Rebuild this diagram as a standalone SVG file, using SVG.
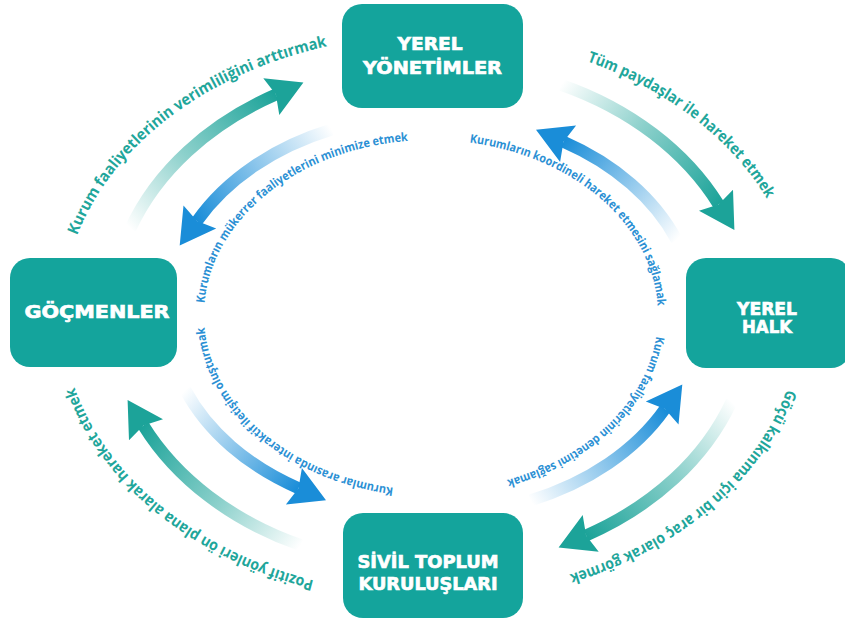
<svg xmlns="http://www.w3.org/2000/svg" width="845" height="623" viewBox="0 0 845 623">
<style>
.node rect{fill:#14a49c}
.node text{fill:#ffffff;stroke:#ffffff;stroke-width:0.7px;font-family:"DejaVu Sans","Liberation Sans",sans-serif;font-weight:bold;font-size:18px;text-anchor:middle}
.ot{fill:#1fa69b;font-family:"Open Sans","Liberation Sans",sans-serif;font-weight:bold;font-size:15.5px}
.it{fill:#2b90d4;font-family:"Open Sans","Liberation Sans",sans-serif;font-weight:bold;font-size:12px}
.ts{fill:none;stroke-width:12}
.th{fill:#1ca399}
.bh{fill:#1a8dd8}
</style>
<defs>
<linearGradient id="gT"><stop offset="0" stop-color="#1ca399" stop-opacity="0"/><stop offset="0.45" stop-color="#1ca399" stop-opacity="0.5"/><stop offset="1" stop-color="#1ca399" stop-opacity="1"/></linearGradient>
<linearGradient id="gB"><stop offset="0" stop-color="#1a8dd8" stop-opacity="0"/><stop offset="0.5" stop-color="#1a8dd8" stop-opacity="0.5"/><stop offset="1" stop-color="#1a8dd8" stop-opacity="1"/></linearGradient>
<linearGradient id="gT1" href="#gT" gradientUnits="userSpaceOnUse" x1="130.3" y1="228.8" x2="275.9" y2="94.6"/>
<linearGradient id="gT2" href="#gT" gradientUnits="userSpaceOnUse" x1="561.2" y1="84.8" x2="718.6" y2="204.5"/>
<linearGradient id="gT3" href="#gT" gradientUnits="userSpaceOnUse" x1="731.7" y1="401.2" x2="586.1" y2="535.4"/>
<linearGradient id="gT4" href="#gT" gradientUnits="userSpaceOnUse" x1="300.8" y1="545.2" x2="143.4" y2="425.5"/>
<linearGradient id="gB1" href="#gB" gradientUnits="userSpaceOnUse" x1="331.7" y1="129.6" x2="197.0" y2="221.1"/>
<linearGradient id="gB2" href="#gB" gradientUnits="userSpaceOnUse" x1="676.7" y1="240.1" x2="563.5" y2="141.8"/>
<linearGradient id="gB3" href="#gB" gradientUnits="userSpaceOnUse" x1="530.3" y1="500.4" x2="665.0" y2="408.9"/>
<linearGradient id="gB4" href="#gB" gradientUnits="userSpaceOnUse" x1="185.3" y1="389.9" x2="298.5" y2="488.2"/>
<path id="pOTL" d="M77.2 235.5 A369 280 0 0 1 403.3 35.8"/>
<path id="pOTR" d="M586.9 61.2 A369 280 0 0 1 791.3 254.4"/>
<path id="pOBR" d="M786.8 389.4 A369 280 0 0 1 495.1 590.7"/>
<path id="pOBL" d="M313.9 580.5 A369 280 0 0 1 62.5 329.6"/>
<path id="pITL" d="M204.5 303.1 A227 175 0 0 1 454.7 141.0"/>
<path id="pITR" d="M469.6 142.6 A227 175 0 0 1 655.2 342.4"/>
<path id="pIBR" d="M656.3 336.3 A227 175 0 0 1 460.2 488.5"/>
<path id="pIBL" d="M393.5 487.6 A227 175 0 0 1 206.2 290.6"/>
</defs>
<rect width="845" height="623" fill="#ffffff"/>
<g id="connectors">
<g id="arrow-gocmenler-yerel-yonetimler">
<path class="ts" stroke="url(#gT1)" d="M130.3 228.8 A320 252 0 0 1 275.9 94.6"/>
<polygon class="th" points="303.4,82.6 279.3,114.9 275.9,94.6 263.3,78.3"/>
</g>
<g id="arrow-yerel-yonetimler-yerel-halk">
<path class="ts" stroke="url(#gT2)" d="M561.2 84.8 A320 252 0 0 1 718.6 204.5"/>
<polygon class="th" points="734.4,230.0 699.0,210.8 718.6,204.5 733.0,189.7"/>
</g>
<g id="arrow-yerel-halk-stk">
<path class="ts" stroke="url(#gT3)" d="M731.7 401.2 A320 252 0 0 1 586.1 535.4"/>
<polygon class="th" points="558.6,547.4 582.7,515.1 586.1,535.4 598.7,551.7"/>
</g>
<g id="arrow-stk-gocmenler">
<path class="ts" stroke="url(#gT4)" d="M300.8 545.2 A320 252 0 0 1 143.4 425.5"/>
<polygon class="th" points="127.6,400.0 163.0,419.2 143.4,425.5 129.0,440.3"/>
</g>
<g id="arrow-yerel-yonetimler-gocmenler">
<path class="ts" stroke="url(#gB1)" d="M331.7 129.6 A265 200 0 0 0 197.0 221.1"/>
<polygon class="bh" points="179.7,245.6 183.5,205.5 197.0,221.1 216.2,228.5"/>
</g>
<g id="arrow-yerel-halk-yerel-yonetimler">
<path class="ts" stroke="url(#gB2)" d="M676.7 240.1 A265 200 0 0 0 563.5 141.8"/>
<polygon class="bh" points="536.0,129.8 576.1,125.5 563.5,141.8 560.1,162.1"/>
</g>
<g id="arrow-stk-yerel-halk">
<path class="ts" stroke="url(#gB3)" d="M530.3 500.4 A265 200 0 0 0 665.0 408.9"/>
<polygon class="bh" points="682.3,384.4 678.5,424.5 665.0,408.9 645.8,401.5"/>
</g>
<g id="arrow-gocmenler-stk">
<path class="ts" stroke="url(#gB4)" d="M185.3 389.9 A265 200 0 0 0 298.5 488.2"/>
<polygon class="bh" points="326.0,500.2 285.9,504.5 298.5,488.2 301.9,467.9"/>
</g>
</g>
<g id="labels">
<text class="ot"><textPath href="#pOTL" textLength="326" lengthAdjust="spacingAndGlyphs">Kurum faaliyetlerinin verimliliğini arttırmak</textPath></text>
<text class="ot"><textPath href="#pOTR" textLength="231" lengthAdjust="spacingAndGlyphs">Tüm paydaşlar ile hareket etmek</textPath></text>
<text class="ot"><textPath href="#pOBR" textLength="296" lengthAdjust="spacingAndGlyphs">Göçü kalkınma için bir araç olarak görmek</textPath></text>
<text class="ot"><textPath href="#pOBL" textLength="320" lengthAdjust="spacingAndGlyphs">Pozitif yönleri ön plana alarak hareket etmek</textPath></text>
<text class="it"><textPath href="#pITL" textLength="282" lengthAdjust="spacingAndGlyphs">Kurumların mükerrer faaliyetlerini minimize etmek</textPath></text>
<text class="it"><textPath href="#pITR" textLength="269" lengthAdjust="spacingAndGlyphs">Kurumların koordineli hareket etmesini sağlamak</textPath></text>
<text class="it"><textPath href="#pIBR" textLength="219" lengthAdjust="spacingAndGlyphs">Kurum faaliyetlerinin denetimi sağlamak</textPath></text>
<text class="it"><textPath href="#pIBL" textLength="267" lengthAdjust="spacingAndGlyphs">Kurumlar arasında interaktif iletişim oluşturmak</textPath></text>
</g>
<g id="node-yerel-yonetimler" class="node">
<rect x="342" y="4" width="181" height="104" rx="20"/>
<text x="430" y="50" textLength="65" lengthAdjust="spacingAndGlyphs">YEREL</text>
<text x="432.5" y="74" textLength="139" lengthAdjust="spacingAndGlyphs">YÖNETİMLER</text>
</g>
<g id="node-gocmenler" class="node">
<rect x="10" y="258" width="167" height="109" rx="20"/>
<text x="97" y="318" textLength="145" lengthAdjust="spacingAndGlyphs">GÖÇMENLER</text>
</g>
<g id="node-yerel-halk" class="node">
<rect x="686" y="258" width="165" height="110" rx="20"/>
<text x="767" y="315" textLength="60" lengthAdjust="spacingAndGlyphs">YEREL</text>
<text x="767" y="333" textLength="50" lengthAdjust="spacingAndGlyphs">HALK</text>
</g>
<g id="node-stk" class="node">
<rect x="343" y="513" width="180" height="105" rx="20"/>
<text x="428" y="568" textLength="141" lengthAdjust="spacingAndGlyphs">SİVİL TOPLUM</text>
<text x="428" y="590" textLength="139" lengthAdjust="spacingAndGlyphs">KURULUŞLARI</text>
</g>
</svg>
